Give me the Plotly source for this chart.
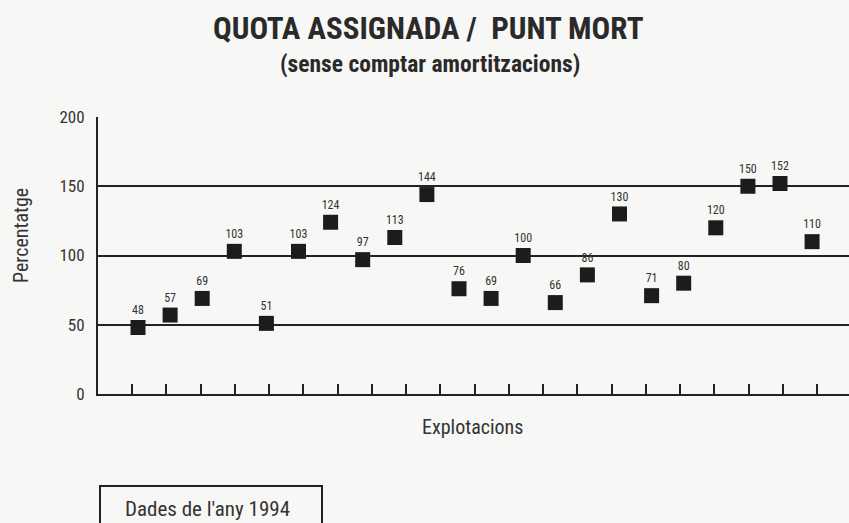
import plotly.graph_objects as go

explotacions = list(range(1, 23))
percentatge = [48, 57, 69, 103, 51, 103, 124, 97, 113, 144, 76, 69, 100, 66, 86, 130, 71, 80, 120, 150, 152, 110]
y_ticks = [0, 50, 100, 150, 200]
tick_slots = list(range(1, 22))

FONT = "Roboto Condensed, Liberation Sans Narrow, DejaVu Sans Condensed, sans-serif"
INK = "#222222"
TXT = "#333333"
BG = "#f7f7f5"

W, H = 849, 523
ml, mr, mt, mb = 98, 0, 117, 129
pw = W - ml - mr
ph = H - mt - mb


def px_x(x):
    return (x - ml) / pw


def px_y(y):
    return (H - mb - y) / ph


fig = go.Figure()
fig.add_trace(go.Scatter(
    x=explotacions, y=percentatge, mode="markers+text",
    marker=dict(symbol="square", size=15, color="#1c1c1c"),
    text=[str(v) for v in percentatge], textposition="top center",
    textfont=dict(family=FONT, size=12, color=TXT),
    cliponaxis=False, showlegend=False, hoverinfo="skip",
))
# invisible trace to activate the tick axis
fig.add_trace(go.Scatter(x=[tick_slots[0]], y=[0], xaxis="x2", mode="markers",
                         marker=dict(opacity=0), showlegend=False, hoverinfo="skip"))

fig.update_layout(
    width=W, height=H,
    margin=dict(l=ml, r=mr, t=mt, b=mb),
    paper_bgcolor=BG, plot_bgcolor=BG,
    font=dict(family=FONT, color=INK),
    xaxis=dict(range=[-0.246, 23.15], showgrid=False, zeroline=False, showticklabels=False,
               ticks="", showline=False),
    xaxis2=dict(overlaying="x", anchor="y", side="bottom", range=[0.007, 21.93],
                tickvals=tick_slots, ticks="inside", ticklen=10, tickwidth=1.5, tickcolor=INK,
                showticklabels=False, showgrid=False, zeroline=False,
                showline=True, linecolor=INK, linewidth=2),
    yaxis=dict(range=[0, 200], tickvals=y_ticks, showgrid=True, gridcolor=INK, gridwidth=2,
               zeroline=False, showline=True, linecolor=INK, linewidth=2, ticks="",
               tickfont=dict(size=17, family=FONT, color=TXT), ticklabelstandoff=8),
)

# axis titles
fig.add_annotation(text="Explotacions", xref="paper", yref="paper",
                   x=px_x(472), y=px_y(427), xanchor="center", yanchor="middle",
                   showarrow=False, font=dict(size=20, family=FONT, color=TXT))
fig.add_annotation(text="Percentatge", xref="paper", yref="paper", textangle=-90,
                   x=px_x(21), y=px_y(236), xanchor="center", yanchor="middle",
                   showarrow=False, font=dict(size=20, family=FONT, color=TXT))

# titles
fig.add_annotation(text="<b>QUOTA ASSIGNADA /  PUNT MORT</b>", xref="paper", yref="paper",
                   x=px_x(428), y=px_y(29), xanchor="center", yanchor="middle",
                   showarrow=False, font=dict(size=31, family=FONT, color="#2a2a2a"))
fig.add_annotation(text="<b>(sense comptar amortitzacions)</b>", xref="paper", yref="paper",
                   x=px_x(430), y=px_y(64), xanchor="center", yanchor="middle",
                   showarrow=False, font=dict(size=23.5, family=FONT, color="#2a2a2a"))

# note box
fig.add_shape(type="rect", xref="paper", yref="paper",
              x0=px_x(100), x1=px_x(322), y0=px_y(530), y1=px_y(486),
              line=dict(color=INK, width=2), fillcolor=BG)
fig.add_annotation(text="Dades de l'any 1994", xref="paper", yref="paper",
                   x=px_x(207), y=px_y(509), xanchor="center", yanchor="middle", showarrow=False,
                   font=dict(size=21, family=FONT, color=TXT))

fig.write_html("out.html", config={"displayModeBar": False},
               post_script="document.body.style.margin='0';")
